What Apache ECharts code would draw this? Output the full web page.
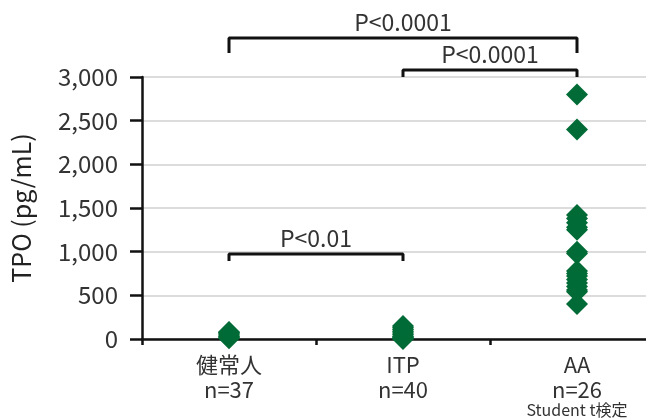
<!DOCTYPE html>
<html><head><meta charset="utf-8">
<script src="https://cdn.jsdelivr.net/npm/echarts@6/dist/echarts.min.js"></script>
<style>html,body{margin:0;padding:0;background:#fff}#c{width:646px;height:418px}</style>
</head><body><div id="c"></div>
<script>
var categories = ['健常人\nn=37', 'ITP\nn=40', 'AA\nn=26'];
var healthy = [10, 20, 30, 45, 60, 75, 80];
var itp = [0, 10, 20, 30, 50, 70, 90, 110, 130, 150];
var aa = [2800, 2400, 1420, 1380, 1330, 1280, 1250, 1000, 980, 780, 750, 720, 680, 640, 600, 560, 540, 400];
var yTicks = [0, 500, 1000, 1500, 2000, 2500, 3000];
// brackets: [fromCat, toCat, barValue, endValue, label]
var brackets = [
  [0, 1, 973, 893, 'P<0.01'],
  [0, 2, 3447, 3275, 'P<0.0001'],
  [1, 2, 3080, 3000, 'P<0.0001']
];
var note = 'Student t検定';

var FONT = '"Noto Sans CJK JP", "Noto Sans", sans-serif';
var GREEN = '#006B36';

function pts(arr, idx) { return arr.map(function (v) { return [idx, v]; }); }
var scatterData = pts(healthy, 0).concat(pts(itp, 1)).concat(pts(aa, 2));

var series = [{
  type: 'scatter',
  data: scatterData,
  symbol: 'diamond',
  symbolSize: [22, 22],
  itemStyle: { color: GREEN, opacity: 1 },
  z: 5
}];
brackets.forEach(function (b) {
  series.push({
    type: 'line',
    clip: false,
    symbol: 'none',
    silent: true,
    data: [[b[0], b[3]], [b[0], b[2]], [b[1], b[2]], [b[1], b[3]]],
    lineStyle: { color: '#111', width: 3 },
    z: 6
  });
});

var chart = echarts.init(document.getElementById('c'), null, { renderer: 'canvas' });
chart.setOption({
  animation: false,
  grid: { left: 142, width: 522, top: 77, bottom: 79, containLabel: false, outerBoundsMode: 'none' },
  xAxis: {
    type: 'category',
    data: categories,
    boundaryGap: true,
    axisLine: { lineStyle: { color: '#111', width: 2.5 } },
    axisTick: { show: true, length: 6, lineStyle: { color: '#111', width: 2.5 } },
    axisLabel: { color: '#333', fontFamily: FONT, fontSize: 22, lineHeight: 25, margin: 13 },
    splitLine: { show: false }
  },
  yAxis: {
    type: 'value',
    min: 0, max: 3000, interval: 500,
    name: 'TPO (pg/mL)',
    nameLocation: 'middle',
    nameRotate: 90,
    nameGap: 108,
    nameTextStyle: { color: '#222', fontFamily: FONT, fontSize: 25 },
    axisLine: { show: true, lineStyle: { color: '#111', width: 2.5 } },
    axisTick: { show: true, length: 12, lineStyle: { color: '#111', width: 2.5 } },
    axisLabel: {
      color: '#333', fontFamily: FONT, fontSize: 24, margin: 24,
      formatter: function (v) { return yTicks.indexOf(v) >= 0 ? v.toLocaleString('en-US') : ''; }
    },
    splitLine: { show: true, lineStyle: { color: '#d0d0d0', width: 1.5 } }
  },
  series: series
});

var graphics = [];
brackets.forEach(function (b) {
  var p1 = chart.convertToPixel({ gridIndex: 0 }, [b[0], b[2]]);
  var p2 = chart.convertToPixel({ gridIndex: 0 }, [b[1], b[2]]);
  graphics.push({
    type: 'text',
    x: (p1[0] + p2[0]) / 2,
    y: p1[1] - 4,
    style: { text: b[4], fill: '#333', font: '23px ' + FONT, textAlign: 'center', textVerticalAlign: 'bottom' },
    z: 10
  });
});
var pn = chart.convertToPixel({ gridIndex: 0 }, [2, 0]);
graphics.push({
  type: 'text', x: pn[0], y: 410,
  style: { text: note, fill: '#333', font: '16px ' + FONT, textAlign: 'center', textVerticalAlign: 'middle' },
  z: 10
});
chart.setOption({ graphic: graphics });
</script>
</body></html>
